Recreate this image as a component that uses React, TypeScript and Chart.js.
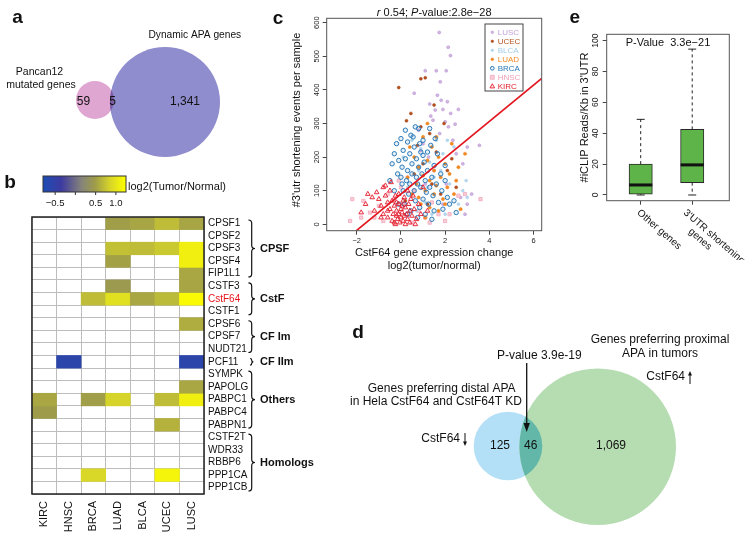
import React, { useEffect, useRef } from 'react';
import { Chart, registerables } from 'chart.js';

Chart.register(...registerables);

const FONT = "'Liberation Sans', Arial, Helvetica, sans-serif";
Chart.defaults.font.family = FONT;
Chart.defaults.color = '#111';

// ---------------- DATA ----------------
// a: Venn
const vennANames = ['Pancan12', 'mutated genes', 'Dynamic APA genes'];
const vennACounts = [59, 5, 1341];

// b: heatmap
const heatColumns = ['KIRC', 'HNSC', 'BRCA', 'LUAD', 'BLCA', 'UCEC', 'LUSC'];
const heatRows = ['CPSF1', 'CPSF2', 'CPSF3', 'CPSF4', 'FIP1L1', 'CSTF3', 'CstF64', 'CSTF1', 'CPSF6', 'CPSF7', 'NUDT21', 'PCF11', 'SYMPK', 'PAPOLG', 'PABPC1', 'PABPC4', 'PABPN1', 'CSTF2T', 'WDR33', 'RBBP6', 'PPP1CA', 'PPP1CB'];
const N = null;
const heatValues: (number | null)[][] = [
  [N, N, N, 0.5, 0.55, 0.7, 0.55],
  [N, N, N, N, N, N, N],
  [N, N, N, 0.72, 0.7, 0.78, 1.1],
  [N, N, N, 0.52, N, N, 1.1],
  [N, N, N, N, N, N, 0.56],
  [N, N, N, 0.45, N, N, 0.55],
  [N, N, 0.7, 0.95, 0.56, 0.68, 1.2],
  [N, N, N, N, N, N, N],
  [N, N, N, N, N, N, 0.6],
  [N, N, N, N, N, N, N],
  [N, N, N, N, N, N, N],
  [N, -0.6, N, N, N, N, -0.6],
  [N, N, N, N, N, N, N],
  [N, N, N, N, N, N, 0.56],
  [0.56, N, 0.5, 0.85, N, 0.7, 1.1],
  [0.48, N, N, N, N, N, N],
  [N, N, N, N, N, 0.63, N],
  [N, N, N, N, N, N, N],
  [N, N, N, N, N, N, N],
  [N, N, N, N, N, N, N],
  [N, N, 0.88, N, N, 1.15, N],
  [N, N, N, N, N, N, N],
];
const heatGroups = ['CPSF', 'CstF', 'CF Im', 'CF IIm', 'Others', 'Homologs'];
const heatGroupRows = [[0, 4], [5, 7], [8, 10], [11, 11], [12, 16], [17, 21]];
const heatHighlight = 'CstF64';
const heatLegendTitle = 'log2(Tumor/Normal)';
const heatLegendTicks = [-0.5, 0, 0.5, 1.0];
const heatLegendTickLabels = ['\u22120.5', '', '0.5', '1.0'];
const heatLegendRange = [-0.8, 1.25];

// c: scatter
const scatterGroups = ['LUSC', 'UCEC', 'BLCA', 'LUAD', 'BRCA', 'HNSC', 'KIRC'];
const ptsLUSC = [[1.73, 571], [2.14, 527], [2.24, 502], [1.1, 457], [1.6, 457], [2.05, 457], [1.78, 424], [0.6, 390], [1.65, 384], [1.82, 369], [2.1, 365], [1.3, 358], [1.9, 342], [2.6, 342], [1.55, 340], [2.25, 330], [1.35, 322], [1.45, 310], [2.0, 305], [2.45, 298], [2.15, 290], [0.8, 280], [1.75, 270], [2.35, 250], [1.0, 240], [3.0, 230], [3.55, 235], [2.5, 210], [1.25, 200], [2.8, 180], [1.5, 160], [2.05, 120], [0.3, 140], [1.9, 60], [3.2, 90], [2.9, 30], [0.9, 220], [2.7, 80], [1.1, 120], [3.0, 60]];
const ptsUCEC = [[-0.1, 407], [0.9, 433], [1.1, 436], [0.45, 330], [1.5, 355], [0.25, 308], [1.95, 300], [1.3, 270], [0.75, 235], [1.6, 215], [1.0, 180], [2.1, 160], [1.4, 120], [0.6, 150], [1.8, 90], [2.3, 195], [0.2, 70], [1.2, 60], [0.9, 290], [2.5, 110]];
const ptsBLCA = [[0.5, 250], [0.9, 225], [1.3, 185], [1.8, 160], [2.2, 120], [2.8, 100], [1.1, 65], [0.3, 110], [1.6, 250], [2.4, 230], [0.7, 40], [2.0, 30], [1.5, 140], [3.0, 80], [0.1, 200], [1.9, 210], [2.6, 60], [1.2, 110], [0.8, 160], [2.1, 250], [1.4, 30], [2.95, 130]];
const ptsLUAD = [[0.3, 140], [0.5, 90], [0.6, 200], [0.7, 120], [0.8, 170], [0.9, 60], [1.0, 145], [1.0, 260], [1.1, 100], [1.2, 190], [1.3, 130], [1.3, 50], [1.4, 230], [1.5, 90], [1.5, 160], [1.6, 115], [1.7, 200], [1.7, 40], [1.8, 140], [1.9, 75], [2.0, 180], [2.1, 110], [2.2, 150], [2.3, 240], [2.4, 90], [2.5, 130], [2.7, 45], [2.9, 210], [1.2, 300], [1.6, 260], [0.4, 230], [2.0, 60], [1.1, 20], [2.6, 170], [0.8, 80]];
const ptsBRCA = [[-0.5, 130], [-0.4, 180], [-0.3, 210], [-0.2, 240], [-0.15, 150], [-0.1, 190], [0, 140], [0, 255], [0.05, 170], [0.1, 220], [0.1, 100], [0.15, 60], [0.2, 195], [0.25, 130], [0.3, 245], [0.3, 160], [0.35, 90], [0.4, 210], [0.4, 120], [0.45, 40], [0.5, 180], [0.5, 150], [0.55, 260], [0.6, 230], [0.6, 100], [0.65, 70], [0.7, 195], [0.7, 140], [0.75, 120], [0.8, 285], [0.8, 170], [0.85, 50], [0.9, 215], [0.9, 110], [0.95, 150], [1.0, 250], [1.0, 75], [1.05, 185], [1.1, 130], [1.1, 30], [1.15, 95], [1.2, 215], [1.2, 160], [1.25, 60], [1.3, 110], [1.35, 235], [1.4, 140], [1.45, 85], [1.5, 175], [1.5, 40], [1.6, 120], [1.65, 210], [1.7, 65], [1.8, 150], [1.85, 100], [1.9, 45], [2.0, 130], [2.1, 80], [2.2, 60], [2.4, 70], [2.5, 35], [-0.3, 100], [0.2, 280], [0.65, 290], [0.3, 30], [0.85, 240], [1.3, 285], [0.05, 120], [-0.1, 60], [0.45, 265], [1.55, 255], [2.0, 175], [0.75, 20], [1.0, 205], [1.4, 15]];
const ptsHNSC = [[-2.3, 10], [-2.2, 75], [-1.8, 20], [-1.7, 70], [-1.4, 35], [-1.2, 20], [-1.0, 55], [-0.8, 10], [-0.6, 90], [-0.3, 75], [0.0, 110], [0.2, 60], [0.5, 5], [0.8, 40], [1.1, 20], [1.4, 65], [1.7, 30], [2.0, 10], [2.2, 30], [2.6, 85], [2.9, 90], [3.6, 75], [-0.1, 130], [0.6, 100], [1.3, 5]];
const ptsKIRC = [[-1.8, 35], [-1.6, 60], [-1.5, 90], [-1.3, 80], [-1.2, 40], [-1.1, 95], [-1.0, 75], [-0.9, 55], [-0.8, 110], [-0.8, 30], [-0.7, 85], [-0.6, 65], [-0.6, 20], [-0.5, 100], [-0.5, 45], [-0.4, 10], [-0.4, 70], [-0.35, 30], [-0.3, 55], [-0.3, 5], [-0.25, 85], [-0.2, 25], [-0.2, 40], [-0.15, 15], [-0.1, 60], [-0.1, 30], [-0.05, 5], [0, 45], [0, 20], [0.05, 35], [0.1, 10], [0.1, 70], [0.15, 25], [0.2, 50], [0.2, 0], [0.25, 30], [0.3, 15], [0.35, 60], [0.4, 40], [0.4, 5], [0.5, 25], [0.55, 85], [0.6, 45], [0.7, 15], [0.8, 60], [0.9, 30], [1.0, 110], [-0.45, 125], [-0.1, 90], [0.3, 100], [-0.7, 115], [1.2, 40], [-0.25, 0], [0.05, 55], [-0.6, 40], [0.15, 80], [-0.9, 20], [0.65, 0], [0.45, 75], [-0.2, 65]];
const scatterPoints = [ptsLUSC, ptsUCEC, ptsBLCA, ptsLUAD, ptsBRCA, ptsHNSC, ptsKIRC];
const scatterR = '0.54';
const scatterP = '2.8e\u221228';
const fitSlope = 54;
const fitIntercept = 90;
const scatterXTicks = [-2, 0, 2, 4, 6];
const scatterYTicks = [0, 100, 200, 300, 400, 500, 600];
const scatterXTitle = ['CstF64 gene expression change', 'log2(tumor/normal)'];
const scatterYTitle = "#3'utr shortening events per sample";

// e: boxplot
const boxCategories = [['Other genes'], ["3'UTR shortening", 'genes']];
const boxMin = [0, 0];
const boxQ1 = [0.5, 8];
const boxMedian = [6.5, 19.5];
const boxQ3 = [20, 42.5];
const boxMax = [49, 94.5];
const boxYTicks = [0, 20, 40, 60, 80, 100];
const boxPValue = 'P-Value  3.3e\u221221';
const boxYTitle = "#iCLIP Reads/Kb in 3'UTR";

// d: Venn
const vennDCounts = [125, 46, 1069];
const vennDPValue = 'P-value 3.9e-19';
const vennDLeftTitle = ['Genes preferring distal APA', 'in Hela CstF64 and CstF64T KD'];
const vennDRightTitle = ['Genes preferring proximal', 'APA in tumors'];
const vennDTag = 'CstF64';

// ---------------- STYLES / HELPERS ----------------
const scatterStyles: Record<string, any> = {
  LUSC: { ps: 'circle', r: 1.5, bg: '#d2b6e2', bd: '#bb98d3', bw: 0.6, txt: '#c4a3da' },
  UCEC: { ps: 'circle', r: 1.5, bg: '#b4501d', bd: '#a8461a', bw: 0.5, txt: '#b5541f' },
  BLCA: { ps: 'circle', r: 1.4, bg: '#b4d8ef', bd: '#9cc8e6', bw: 0.5, txt: '#a4cde9' },
  LUAD: { ps: 'circle', r: 1.6, bg: '#f28a22', bd: '#ee7f18', bw: 0.5, txt: '#f08a24' },
  BRCA: { ps: 'circle', r: 2.2, bg: 'rgba(40,120,185,0.12)', bd: '#2c7bb9', bw: 1, txt: '#2a7ab8' },
  HNSC: { ps: 'rect', r: 2.3, bg: '#f9cdd8', bd: '#f3a8bb', bw: 0.8, txt: '#f2a0b6' },
  KIRC: { ps: 'triangle', r: 2.7, bg: 'rgba(228,30,45,0.08)', bd: '#e31d2e', bw: 0.9, txt: '#e3202e' },
};

const heatStops: [number, number[]][] = [
  [-0.8, [28, 77, 180]],
  [-0.35, [61, 58, 160]],
  [0.15, [133, 131, 122]],
  [0.5, [160, 158, 72]],
  [0.85, [214, 212, 42]],
  [1.25, [255, 255, 0]],
];
function heatColor(v: number) {
  const s = heatStops;
  if (v <= s[0][0]) return `rgb(${s[0][1].join(',')})`;
  for (let i = 1; i < s.length; i++) {
    if (v <= s[i][0]) {
      const t = (v - s[i - 1][0]) / (s[i][0] - s[i - 1][0]);
      const c = s[i - 1][1].map((a, k) => Math.round(a + (s[i][1][k] - a) * t));
      return `rgb(${c.join(',')})`;
    }
  }
  return `rgb(${s[s.length - 1][1].join(',')})`;
}

function txt(ctx: CanvasRenderingContext2D, s: string, x: number, y: number, size: number, o: any = {}) {
  ctx.save();
  ctx.font = `${o.italic ? 'italic ' : ''}${o.bold ? 'bold ' : ''}${size}px ${FONT}`;
  ctx.fillStyle = o.color || '#111';
  ctx.textAlign = o.align || 'center';
  ctx.textBaseline = o.baseline || 'middle';
  ctx.translate(x, y);
  if (o.rot) ctx.rotate(o.rot);
  ctx.fillText(s, 0, 0);
  ctx.restore();
}
function seg(ctx: CanvasRenderingContext2D, x1: number, y1: number, x2: number, y2: number) {
  ctx.beginPath();
  ctx.moveTo(x1, y1);
  ctx.lineTo(x2, y2);
  ctx.stroke();
}
function drawBrace(ctx: CanvasRenderingContext2D, x: number, t: number, b: number) {
  const m = (t + b) / 2;
  const k = Math.min(3.3, (b - t) / 4);
  ctx.save();
  ctx.strokeStyle = '#111';
  ctx.lineWidth = 1.2;
  ctx.beginPath();
  ctx.moveTo(x - k, t);
  ctx.quadraticCurveTo(x, t, x, t + k);
  ctx.lineTo(x, m - k);
  ctx.quadraticCurveTo(x, m, x + k, m);
  ctx.quadraticCurveTo(x, m, x, m + k);
  ctx.lineTo(x, b - k);
  ctx.quadraticCurveTo(x, b, x - k, b);
  ctx.stroke();
  ctx.restore();
}
function vArrow(ctx: CanvasRenderingContext2D, x: number, y1: number, y2: number, head: number, hw: number, lw: number) {
  const dir = y2 > y1 ? 1 : -1;
  ctx.save();
  ctx.strokeStyle = '#111';
  ctx.fillStyle = '#111';
  ctx.lineWidth = lw;
  seg(ctx, x, y1, x, y2 - dir * head * 0.6);
  ctx.beginPath();
  ctx.moveTo(x, y2);
  ctx.lineTo(x - hw, y2 - dir * head);
  ctx.lineTo(x + hw, y2 - dir * head);
  ctx.closePath();
  ctx.fill();
  ctx.restore();
}
function drawSym(ctx: CanvasRenderingContext2D, st: any, x: number, y: number) {
  ctx.save();
  ctx.fillStyle = st.bg;
  ctx.strokeStyle = st.bd;
  ctx.lineWidth = st.bw;
  const r = st.r * 0.85;
  ctx.beginPath();
  if (st.ps === 'rect') ctx.rect(x - r, y - r, 2 * r, 2 * r);
  else if (st.ps === 'triangle') {
    ctx.moveTo(x, y - r * 1.1);
    ctx.lineTo(x - r, y + r * 0.7);
    ctx.lineTo(x + r, y + r * 0.7);
    ctx.closePath();
  } else ctx.arc(x, y, r, 0, Math.PI * 2);
  ctx.fill();
  ctx.stroke();
  ctx.restore();
}

const base = {
  animation: false,
  responsive: false,
  devicePixelRatio: 1,
  events: [],
};

// ---------------- CONFIGS ----------------
function vennAConfig() {
  const L = { w: 260, h: 170, big: { x: 165, y: 102, r: 55 }, small: { x: 95, y: 100, r: 19 } };
  return {
    type: 'bubble',
    data: {
      datasets: [
        { label: vennANames[2], data: [{ x: L.big.x, y: L.big.y, r: L.big.r }], backgroundColor: '#8f8dcd', borderWidth: 0, clip: false },
        { label: vennANames[0], data: [{ x: L.small.x, y: L.small.y, r: L.small.r }], backgroundColor: '#e0a6d2', borderWidth: 0, clip: false },
      ],
    },
    options: {
      ...base,
      layout: { padding: 0, autoPadding: false },
      plugins: { legend: { display: false }, tooltip: { enabled: false } },
      scales: {
        x: { type: 'linear', min: 0, max: L.w, display: false },
        y: { type: 'linear', min: 0, max: L.h, reverse: true, display: false },
      },
    },
    plugins: [{
      id: 'vennA',
      afterDatasetsDraw(chart: any) {
        const ctx = chart.ctx;
        const a = chart.getDatasetMeta(0).data[0];
        const b = chart.getDatasetMeta(1).data[0];
        ctx.save();
        ctx.beginPath();
        ctx.arc(a.x, a.y, a.options.radius, 0, Math.PI * 2);
        ctx.clip();
        ctx.beginPath();
        ctx.arc(b.x, b.y, b.options.radius, 0, Math.PI * 2);
        ctx.fillStyle = '#7a5ba3';
        ctx.fill();
        ctx.restore();
        const X = (v: number) => chart.scales.x.getPixelForValue(v);
        const Y = (v: number) => chart.scales.y.getPixelForValue(v);
        txt(ctx, 'a', X(17.5), Y(18), 19, { bold: true });
        txt(ctx, vennANames[0], X(39.5), Y(72), 10.5);
        txt(ctx, vennANames[1], X(41), Y(85.5), 10.5);
        txt(ctx, vennANames[2], X(148.5), Y(35), 10.2, { align: 'left' });
        txt(ctx, String(vennACounts[0]), X(83.5), Y(102), 12);
        txt(ctx, String(vennACounts[1]), X(112.5), Y(102), 12);
        txt(ctx, vennACounts[2].toLocaleString('en-US'), X(185), Y(102), 12);
      },
    }],
  };
}

function heatConfig() {
  return {
    type: 'bar',
    data: {
      labels: heatColumns,
      datasets: heatRows.map((r, i) => ({
        label: r,
        data: heatColumns.map(() => [i, i + 1]),
        backgroundColor: heatValues[i].map((v) => (v == null ? 'rgba(255,255,255,0)' : heatColor(v))),
        borderWidth: 0,
        grouped: false,
        barPercentage: 1,
        categoryPercentage: 1,
      })),
    },
    options: {
      ...base,
      layout: { padding: { top: 52, left: 32, right: 0, bottom: 0 }, autoPadding: false },
      plugins: { legend: { display: false }, tooltip: { enabled: false } },
      scales: {
        x: {
          type: 'category',
          position: 'bottom',
          z: 1,
          grid: { display: true, offset: true, drawOnChartArea: true, drawTicks: false, color: '#bdbdbd', lineWidth: 1 },
          border: { display: false },
          ticks: { minRotation: 90, maxRotation: 90, autoSkip: false, padding: 7, font: { size: 11 }, color: '#111' },
          afterFit: (s: any) => { s.height = 57; },
        },
        y: {
          type: 'linear',
          position: 'left',
          min: 0,
          max: heatRows.length,
          reverse: true,
          z: 1,
          afterBuildTicks: (s: any) => { s.ticks = heatRows.map((_, i) => ({ value: i })).concat([{ value: heatRows.length }]); },
          grid: { display: true, drawTicks: false, color: '#bdbdbd', lineWidth: 1 },
          border: { display: false },
          ticks: { display: false },
          afterFit: (s: any) => { s.width = 0; },
        },
        yl: {
          type: 'category',
          position: 'right',
          labels: heatRows,
          offset: true,
          grid: { display: false, drawTicks: false },
          border: { display: false },
          ticks: {
            autoSkip: false,
            padding: 4,
            font: { size: 10 },
            color: (c: any) => (heatRows[c.index] === heatHighlight ? '#e8141c' : '#111'),
          },
          afterFit: (s: any) => { s.width = 126; },
        },
      },
    },
    plugins: [{
      id: 'heatDecor',
      afterDraw(chart: any) {
        const { ctx, chartArea: ca } = chart;
        const y = chart.scales.y;
        ctx.save();
        ctx.strokeStyle = '#222';
        ctx.lineWidth = 1.5;
        ctx.strokeRect(ca.left, ca.top, ca.right - ca.left, ca.bottom - ca.top);
        ctx.restore();
        heatGroups.forEach((g, i) => {
          const [r0, r1] = heatGroupRows[i];
          const t = y.getPixelForValue(r0) + 3;
          const b = y.getPixelForValue(r1 + 1) - 3;
          drawBrace(ctx, ca.right + 47.7, t, b);
          txt(ctx, g, ca.right + 56, (t + b) / 2 + 0.5, 11, { bold: true, align: 'left' });
        });
        // colour key
        const kx0 = 43, kx1 = 126, ky0 = 11, ky1 = 27;
        const [lo, hi] = heatLegendRange;
        const kp = (v: number) => kx0 + ((v - lo) / (hi - lo)) * (kx1 - kx0);
        const grad = ctx.createLinearGradient(kx0, 0, kx1, 0);
        heatStops.forEach(([v, c]) => grad.addColorStop((v - lo) / (hi - lo), `rgb(${c.join(',')})`));
        ctx.save();
        ctx.fillStyle = grad;
        ctx.fillRect(kx0, ky0, kx1 - kx0, ky1 - ky0);
        ctx.strokeStyle = '#333';
        ctx.lineWidth = 1;
        ctx.strokeRect(kx0, ky0, kx1 - kx0, ky1 - ky0);
        heatLegendTicks.forEach((v, i) => {
          seg(ctx, kp(v), ky1, kp(v), ky1 + 3);
          if (heatLegendTickLabels[i]) txt(ctx, heatLegendTickLabels[i], kp(v), 38.5, 9.5);
        });
        ctx.restore();
        txt(ctx, heatLegendTitle, kx1 + 2, 21.5, 11, { align: 'left' });
        txt(ctx, 'b', 10, 17.5, 19, { bold: true });
      },
    }],
  };
}

function scatterConfig() {
  const xMin = -3.36, xMax = 6.37, yMin = -19, yMax = 613;
  const fitStart = (yMin - fitIntercept) / fitSlope;
  const datasets: any[] = [{
    type: 'line',
    label: 'fit',
    data: [{ x: fitStart, y: yMin }, { x: xMax, y: fitIntercept + fitSlope * xMax }],
    borderColor: '#e3161f',
    borderWidth: 1.6,
    pointRadius: 0,
    order: 0,
  }];
  const orderOf: Record<string, number> = { KIRC: 1, BRCA: 2, LUAD: 3, UCEC: 4, BLCA: 5, HNSC: 6, LUSC: 7 };
  scatterGroups.forEach((g, i) => {
    const st = scatterStyles[g];
    datasets.push({
      type: 'scatter',
      label: g,
      data: scatterPoints[i].map(([x, y]) => ({ x, y })),
      pointStyle: st.ps,
      pointRadius: st.r,
      pointBackgroundColor: st.bg,
      pointBorderColor: st.bd,
      pointBorderWidth: st.bw,
      order: orderOf[g],
    });
  });
  return {
    type: 'scatter',
    data: { datasets },
    options: {
      ...base,
      layout: { padding: { top: 18.3, right: 3.3, left: 0, bottom: 0 }, autoPadding: false },
      plugins: { legend: { display: false }, tooltip: { enabled: false } },
      scales: {
        x: {
          type: 'linear', min: xMin, max: xMax,
          afterBuildTicks: (s: any) => { s.ticks = scatterXTicks.map((v) => ({ value: v })); },
          grid: { display: true, drawOnChartArea: false, drawTicks: true, tickLength: 4, color: '#444' },
          border: { display: false },
          ticks: { font: { size: 7.5 }, color: '#222', padding: 2, maxRotation: 0, autoSkip: false, callback: (v: number) => (v < 0 ? '\u2212' + Math.abs(v) : String(v)) },
          afterFit: (s: any) => { s.height = 59.3; },
        },
        y: {
          type: 'linear', min: yMin, max: yMax,
          afterBuildTicks: (s: any) => { s.ticks = scatterYTicks.map((v) => ({ value: v })); },
          grid: { display: true, drawOnChartArea: false, drawTicks: true, tickLength: 4, color: '#444' },
          border: { display: false },
          ticks: { font: { size: 7.5 }, color: '#222', padding: 0, minRotation: 90, maxRotation: 90, crossAlign: 'center', autoSkip: false },
          afterFit: (s: any) => { s.width = 96.7; },
        },
      },
    },
    plugins: [{
      id: 'scatterDecor',
      afterDraw(chart: any) {
        const { ctx, chartArea: ca } = chart;
        ctx.save();
        ctx.strokeStyle = '#555';
        ctx.lineWidth = 1;
        ctx.strokeRect(ca.left, ca.top, ca.right - ca.left, ca.bottom - ca.top);
        ctx.restore();
        // title with italics
        const parts: [string, boolean][] = [['r', true], [' ' + scatterR + '; ', false], ['P', true], ['-value:' + scatterP, false]];
        ctx.save();
        let total = 0;
        parts.forEach(([s, it]) => { ctx.font = `${it ? 'italic ' : ''}11px ${FONT}`; total += ctx.measureText(s).width; });
        let x = (ca.left + ca.right) / 2 - total / 2;
        ctx.restore();
        parts.forEach(([s, it]) => {
          txt(ctx, s, x, 13, 11, { italic: it, align: 'left' });
          ctx.save();
          ctx.font = `${it ? 'italic ' : ''}11px ${FONT}`;
          x += ctx.measureText(s).width;
          ctx.restore();
        });
        const cx = (ca.left + ca.right) / 2;
        txt(ctx, scatterXTitle[0], cx, 252.7, 11);
        txt(ctx, scatterXTitle[1], cx, 266, 11);
        txt(ctx, scatterYTitle, 67, 120, 11, { rot: -Math.PI / 2 });
        txt(ctx, 'c', 48, 18.7, 19, { bold: true });
        // legend
        const w = 38, h = 67;
        const lx = ca.right - 18.7 - w, ly = ca.top + 5.7;
        ctx.save();
        ctx.fillStyle = '#fff';
        ctx.fillRect(lx, ly, w, h);
        ctx.strokeStyle = '#444';
        ctx.lineWidth = 1;
        ctx.strokeRect(lx, ly, w, h);
        ctx.restore();
        scatterGroups.forEach((g, i) => {
          const st = scatterStyles[g];
          const yy = ly + 8.3 + 9 * i;
          drawSym(ctx, st, lx + 7.3, yy);
          txt(ctx, g, lx + 12.7, yy + 0.3, 8, { align: 'left', color: st.txt });
        });
      },
    }],
  };
}

function boxConfig() {
  const green = '#5eb448';
  return {
    type: 'bar',
    data: {
      datasets: [{
        label: 'box',
        data: boxCategories.map((_, i) => ({ x: i + 1, y: [boxQ1[i], boxQ3[i]] })),
        backgroundColor: green,
        borderColor: '#2a2a2a',
        borderWidth: 1,
        borderSkipped: false,
        barThickness: 23.3,
      }],
    },
    options: {
      ...base,
      layout: { padding: { top: 34.3, right: 20.7, left: 0, bottom: 0 }, autoPadding: false },
      plugins: { legend: { display: false }, tooltip: { enabled: false } },
      scales: {
        x: {
          type: 'linear', min: 0.34, max: 2.72, offset: false,
          afterBuildTicks: (s: any) => { s.ticks = boxCategories.map((_, i) => ({ value: i + 1 })); },
          grid: { display: true, drawOnChartArea: false, drawTicks: true, tickLength: 4, color: '#444', offset: false },
          border: { display: false },
          ticks: { display: false },
          afterFit: (s: any) => { s.height = 59.3; },
        },
        y: {
          type: 'linear', min: -3.7, max: 104.1,
          afterBuildTicks: (s: any) => { s.ticks = boxYTicks.map((v) => ({ value: v })); },
          grid: { display: true, drawOnChartArea: false, drawTicks: true, tickLength: 4, color: '#444' },
          border: { display: false },
          ticks: { font: { size: 8.5 }, color: '#222', padding: 0, minRotation: 90, maxRotation: 90, crossAlign: 'center', autoSkip: false },
          afterFit: (s: any) => { s.width = 61.7; },
        },
      },
    },
    plugins: [{
      id: 'boxDecor',
      afterDatasetsDraw(chart: any) {
        const { ctx } = chart;
        const X = chart.scales.x, Y = chart.scales.y;
        ctx.save();
        ctx.strokeStyle = '#222';
        boxCategories.forEach((_, i) => {
          const cx = X.getPixelForValue(i + 1);
          ctx.lineWidth = 1;
          ctx.setLineDash([3, 3]);
          seg(ctx, cx, Y.getPixelForValue(boxQ3[i]), cx, Y.getPixelForValue(boxMax[i]));
          seg(ctx, cx, Y.getPixelForValue(boxQ1[i]), cx, Y.getPixelForValue(boxMin[i]));
          ctx.setLineDash([]);
          seg(ctx, cx - 4, Y.getPixelForValue(boxMax[i]), cx + 4, Y.getPixelForValue(boxMax[i]));
          seg(ctx, cx - 4, Y.getPixelForValue(boxMin[i]), cx + 4, Y.getPixelForValue(boxMin[i]));
          ctx.lineWidth = 3;
          ctx.strokeStyle = '#111';
          seg(ctx, cx - 11.6, Y.getPixelForValue(boxMedian[i]), cx + 11.6, Y.getPixelForValue(boxMedian[i]));
          ctx.strokeStyle = '#222';
        });
        ctx.restore();
      },
      afterDraw(chart: any) {
        const { ctx, chartArea: ca } = chart;
        const X = chart.scales.x;
        ctx.save();
        ctx.strokeStyle = '#555';
        ctx.lineWidth = 1;
        ctx.strokeRect(ca.left, ca.top, ca.right - ca.left, ca.bottom - ca.top);
        ctx.restore();
        txt(ctx, boxPValue, (ca.left + ca.right) / 2, ca.top + 8.6, 11);
        txt(ctx, boxYTitle, 40, (ca.top + ca.bottom) / 2, 11, { rot: -Math.PI / 2 });
        txt(ctx, 'e', 29.7, 18, 19, { bold: true });
        const ang = 0.716;
        boxCategories.forEach((lines, i) => {
          const cx = X.getPixelForValue(i + 1);
          const ax = i === 0 ? cx + 1 : cx - 4;
          lines.forEach((s, k) => {
            ctx.save();
            ctx.translate(ax, ca.bottom + 7);
            ctx.rotate(ang);
            ctx.font = `10px ${FONT}`;
            ctx.fillStyle = '#111';
            ctx.textAlign = 'left';
            ctx.textBaseline = 'top';
            ctx.fillText(s, k * 16, k * 11);
            ctx.restore();
          });
        });
      },
    }],
  };
}

function vennDConfig() {
  const L = { w: 420, h: 261, left: { x: 178, y: 156, r: 34.3 }, right: { x: 267.7, y: 156.7, r: 78.3 } };
  return {
    type: 'bubble',
    data: {
      datasets: [
        { label: vennDRightTitle[0], data: [{ x: L.right.x, y: L.right.y, r: L.right.r }], backgroundColor: '#b6ddb1', borderWidth: 0, clip: false },
        { label: vennDLeftTitle[0], data: [{ x: L.left.x, y: L.left.y, r: L.left.r }], backgroundColor: '#b3e0f6', borderWidth: 0, clip: false },
      ],
    },
    options: {
      ...base,
      layout: { padding: 0, autoPadding: false },
      plugins: { legend: { display: false }, tooltip: { enabled: false } },
      scales: {
        x: { type: 'linear', min: 0, max: L.w, display: false },
        y: { type: 'linear', min: 0, max: L.h, reverse: true, display: false },
      },
    },
    plugins: [{
      id: 'vennD',
      afterDatasetsDraw(chart: any) {
        const ctx = chart.ctx;
        const a = chart.getDatasetMeta(0).data[0];
        const b = chart.getDatasetMeta(1).data[0];
        ctx.save();
        ctx.beginPath();
        ctx.arc(a.x, a.y, a.options.radius, 0, Math.PI * 2);
        ctx.clip();
        ctx.beginPath();
        ctx.arc(b.x, b.y, b.options.radius, 0, Math.PI * 2);
        ctx.fillStyle = '#62b7a9';
        ctx.fill();
        ctx.restore();
        const X = (v: number) => chart.scales.x.getPixelForValue(v);
        const Y = (v: number) => chart.scales.y.getPixelForValue(v);
        txt(ctx, 'd', X(28), Y(43), 19, { bold: true });
        txt(ctx, vennDRightTitle[0], X(330), Y(50), 12);
        txt(ctx, vennDRightTitle[1], X(330), Y(64), 12);
        txt(ctx, vennDPValue, X(209.3), Y(66), 12);
        vArrow(ctx, X(196.7), Y(73), Y(142), 9, 3.2, 1.3);
        txt(ctx, vennDLeftTitle[0], X(111.7), Y(98.3), 12);
        txt(ctx, vennDLeftTitle[1], X(106), Y(111.7), 12);
        txt(ctx, vennDTag, X(130), Y(149), 12, { align: 'right' });
        vArrow(ctx, X(135), Y(143), Y(156), 4.5, 2, 1);
        txt(ctx, vennDTag, X(355), Y(87), 12, { align: 'right' });
        vArrow(ctx, X(360), Y(94), Y(81), 4.5, 2, 1);
        txt(ctx, String(vennDCounts[0]), X(170), Y(156), 12);
        txt(ctx, String(vennDCounts[1]), X(200.7), Y(156), 12);
        txt(ctx, vennDCounts[2].toLocaleString('en-US'), X(281), Y(156), 12);
      },
    }],
  };
}

// ---------------- COMPONENTS ----------------
function ChartCanvas({ x, y, w, h, make }: { x: number; y: number; w: number; h: number; make: () => any }) {
  const ref = useRef<HTMLCanvasElement | null>(null);
  useEffect(() => {
    if (!ref.current) return;
    const c = new Chart(ref.current, make());
    return () => c.destroy();
  }, []);
  return (
    <div style={{ position: 'absolute', left: x, top: y, width: w, height: h }}>
      <canvas ref={ref} width={w} height={h} style={{ display: 'block', width: w, height: h }} />
    </div>
  );
}

export default function App() {
  return (
    <div style={{ position: 'absolute', left: 0, top: 0, width: 750, height: 551, background: '#fff', overflow: 'hidden' }}>
      <ChartCanvas x={0} y={0} w={260} h={170} make={vennAConfig} />
      <ChartCanvas x={0} y={165} w={330} h={386} make={heatConfig} />
      <ChartCanvas x={230} y={0} w={315} h={290} make={scatterConfig} />
      <ChartCanvas x={545} y={0} w={205} h={260} make={boxConfig} />
      <ChartCanvas x={330} y={290} w={420} h={261} make={vennDConfig} />
    </div>
  );
}
